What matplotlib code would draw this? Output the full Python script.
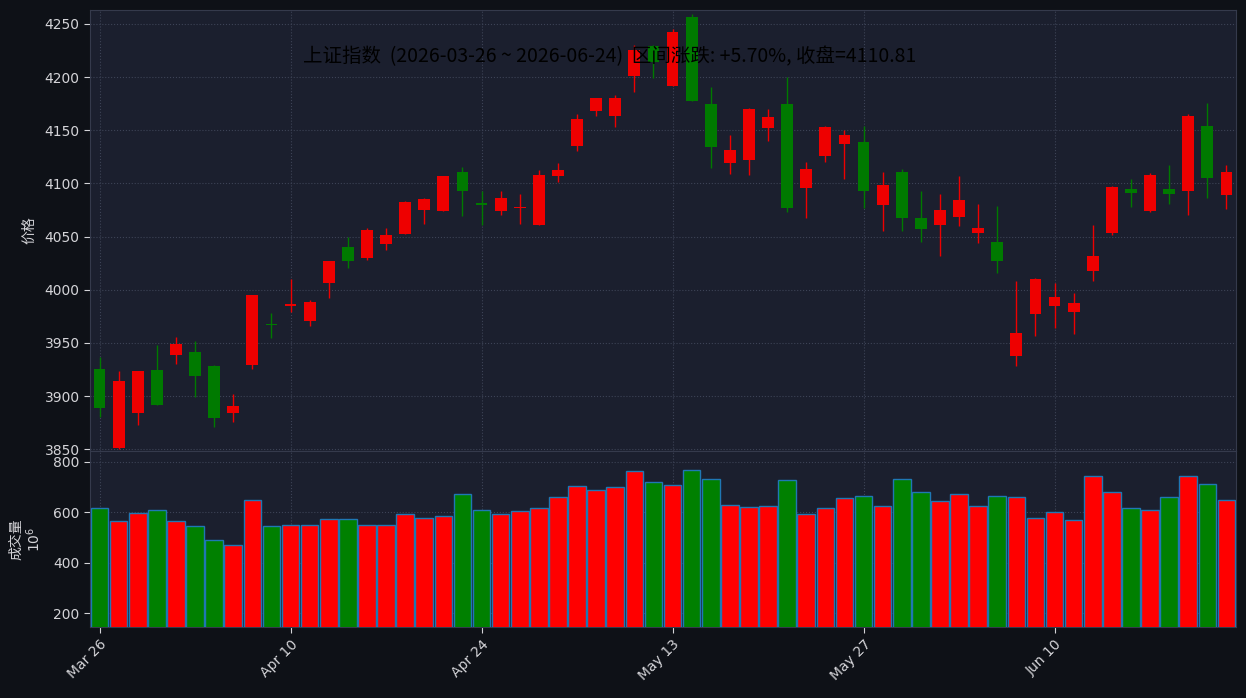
import matplotlib.pyplot as plt
import pandas as pd

plt.rcParams['font.family'] = ['DejaVu Sans', 'Noto Sans CJK SC']
plt.rcParams['axes.unicode_minus'] = False
cjk = ['Noto Sans CJK SC', 'DejaVu Sans']

holidays = ['2026-04-06', '2026-05-01', '2026-05-04', '2026-05-05', '2026-06-19']
dates = pd.bdate_range('2026-03-26', '2026-06-24')
dates = dates[~dates.isin(pd.to_datetime(holidays))]

opens = [3925.1, 3850.9, 3884.0, 3924.2, 3938.6, 3941.1, 3928.0, 3884.0, 3929.2, 3967.7,
         3985.0, 3970.6, 4006.4, 4040.0, 4030.0, 4043.1, 4052.5, 4075.1, 4074.2, 4110.6,
         4081.3, 4073.9, 4076.6, 4061.0, 4107.1, 4135.4, 4168.4, 4163.7, 4201.3, 4229.3,
         4191.9, 4256.6, 4174.6, 4119.4, 4122.2, 4152.4, 4174.6, 4095.8, 4126.0, 4137.3,
         4138.9, 4079.8, 4110.6, 4067.3, 4061.0, 4068.1, 4053.6, 4044.8, 3937.8, 3977.3,
         3984.9, 3979.2, 4017.5, 4053.6, 4094.7, 4074.3, 4094.7, 4093.2, 4154.1, 4089.4]
highs = [3936.7, 3923.9, 3923.9, 3948.4, 3955.9, 3951.8, 3929.5, 3902.2, 3994.8, 3978.5,
         4010.2, 3990.7, 4026.8, 4050.0, 4057.6, 4058.5, 4083.0, 4086.7, 4106.8, 4115.0,
         4092.4, 4092.4, 4089.6, 4112.2, 4118.8, 4165.5, 4180.3, 4182.8, 4230.2, 4230.2,
         4245.0, 4259.1, 4191.0, 4145.1, 4170.6, 4169.6, 4199.8, 4119.7, 4153.9, 4150.2,
         4153.9, 4110.3, 4113.1, 4092.4, 4089.9, 4106.7, 4080.3, 4078.4, 4007.8, 4010.9,
         4005.9, 3997.4, 4060.5, 4097.3, 4103.8, 4109.5, 4117.0, 4164.8, 4175.4, 4117.0]
lows = [3880.8, 3850.5, 3872.4, 3891.5, 3929.8, 3899.4, 3871.1, 3876.1, 3925.7, 3955.0,
        3979.4, 3966.2, 3992.6, 4020.9, 4028.4, 4037.8, 4052.5, 4062.2, 4074.2, 4069.8,
        4061.3, 4070.7, 4062.2, 4061.0, 4100.9, 4130.0, 4163.0, 4153.3, 4185.6, 4198.8,
        4191.9, 4177.8, 4114.4, 4108.4, 4107.8, 4139.5, 4073.5, 4067.9, 4119.7, 4104.3,
        4077.0, 4055.3, 4055.3, 4045.3, 4032.1, 4059.9, 4043.6, 4015.6, 3928.0, 3956.3,
        3963.8, 3958.0, 4007.8, 4051.1, 4077.5, 4073.4, 4080.3, 4069.9, 4086.3, 4075.6]
closes = [3889.2, 3913.8, 3923.2, 3891.5, 3948.7, 3918.8, 3879.3, 3890.3, 3994.8, 3966.5,
          3986.4, 3988.2, 4026.8, 4027.2, 4056.0, 4051.3, 4082.3, 4085.2, 4106.8, 4093.0,
          4079.8, 4086.1, 4078.0, 4107.8, 4112.5, 4160.5, 4180.3, 4180.3, 4225.5, 4214.5,
          4242.5, 4177.8, 4134.5, 4131.3, 4169.9, 4162.4, 4077.0, 4113.4, 4153.0, 4145.4,
          4092.7, 4098.4, 4067.9, 4057.2, 4074.8, 4084.4, 4058.0, 4027.2, 3959.1, 4010.0,
          3993.0, 3987.4, 4031.6, 4096.6, 4091.3, 4107.9, 4090.3, 4163.5, 4105.4, 4110.81]
volumes = [616, 564, 597, 608, 564, 544, 492, 472, 648, 544,
           549, 549, 572, 572, 549, 549, 592, 576, 584, 671,
           608, 592, 604, 616, 659, 702, 686, 698, 761, 718,
           706, 765, 733, 628, 620, 624, 726, 592, 616, 655,
           663, 624, 733, 678, 643, 671, 624, 663, 659, 576,
           600, 569, 745, 678, 616, 608, 659, 745, 710, 647]

fig_bg = '#0e1117'
ax_bg = '#1b1f2e'
txt = '#d4d4d8'
spine_c = '#353a4c'

fig = plt.figure(figsize=(12.46, 6.98), dpi=100, facecolor=fig_bg)
ax1 = fig.add_axes([90 / 1246, 1 - 451 / 698, 1146 / 1246, 441 / 698])
ax2 = fig.add_axes([90 / 1246, 1 - 627 / 698, 1146 / 1246, 176 / 698], sharex=ax1)

x = list(range(len(dates)))
up = [c >= o for o, c in zip(opens, closes)]
candle_cols = ['#ee0000' if u else '#007a00' for u in up]
vol_cols = ['#ff0000' if u else '#008000' for u in up]

ax1.vlines(x, lows, highs, colors=candle_cols, linewidth=1, zorder=2)
bodies = [max(abs(c - o), 1.5) for o, c in zip(opens, closes)]
bottoms = [min(o, c) for o, c in zip(opens, closes)]
ax1.bar(x, bodies, bottom=bottoms, width=0.62, color=candle_cols, zorder=3)

ax2.bar(x, volumes, width=0.92, color=vol_cols, edgecolor='#1f77b4', linewidth=1, zorder=3)

for ax in (ax1, ax2):
    ax.set_facecolor(ax_bg)
    ax.grid(True, linestyle=':', color='#3d4356', linewidth=0.8)
    ax.set_axisbelow(True)
    for s in ax.spines.values():
        s.set_color(spine_c)
    ax.tick_params(colors=txt, labelsize=10, length=4)

ax1.set_xlim(-0.5, len(dates) - 0.5)
ax1.set_ylim(3848.4, 4263)
ax1.set_yticks(range(3850, 4251, 50))
ax1.tick_params(axis='x', labelbottom=False, length=0)
ax2.set_ylim(146, 842)
ax2.set_yticks([200, 400, 600, 800])

tick_pos = list(range(0, len(dates), 10))
ax2.set_xticks(tick_pos)
ax2.set_xticklabels([dates[i].strftime('%b %d') for i in tick_pos], rotation=45, ha='right',
                    rotation_mode='anchor')

ax1.set_ylabel('价格', color=txt, fontsize=10, family=cjk)
ax1.yaxis.set_label_coords(-0.047, 0.5)
ax2.set_ylabel('成交量\n$10^6$', color=txt, fontsize=10, family=cjk, linespacing=1.1)
ax2.yaxis.set_label_coords(-0.041, 0.5)

pct = (closes[-1] / closes[0] - 1) * 100
title = f'上证指数  ({dates[0]:%Y-%m-%d} ~ {dates[-1]:%Y-%m-%d})  区间涨跌: {pct:+.2f}%, 收盘={closes[-1]:.2f}'
fig.text(303 / 1246, 1 - 57 / 698, title, ha='left', va='center', fontsize=14, color='black',
         family=cjk)

fig.savefig('out.png', dpi=100, facecolor=fig_bg)
